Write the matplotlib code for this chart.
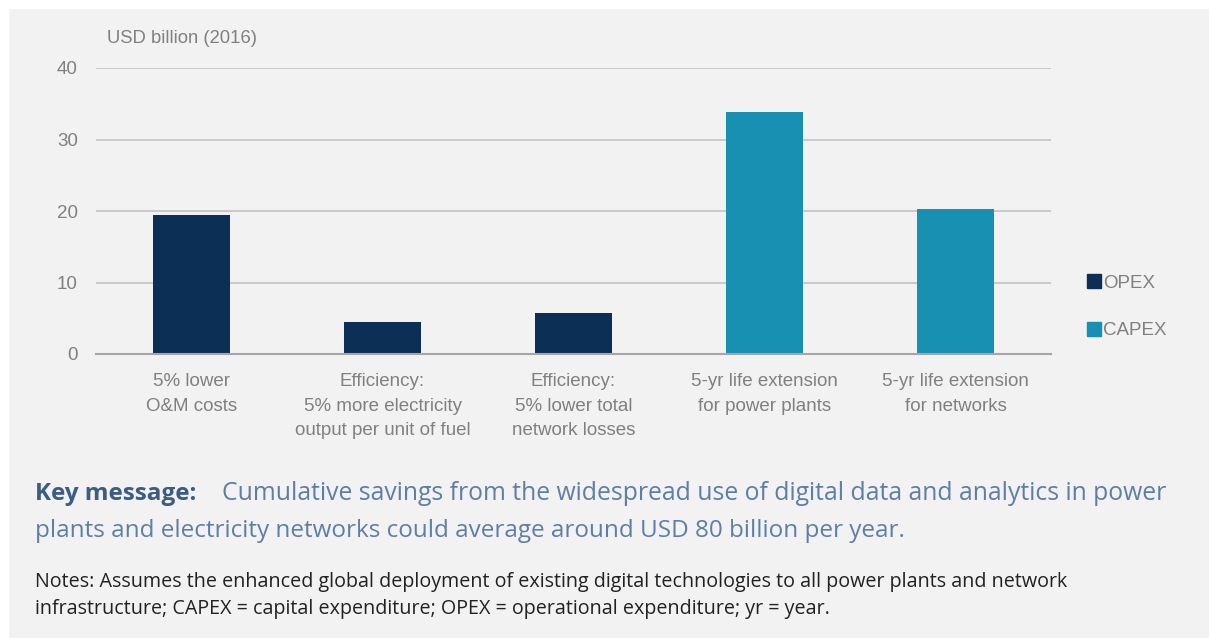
import matplotlib.pyplot as plt
from matplotlib.patches import Rectangle
from matplotlib.lines import Line2D

categories = [
    "5% lower\nO&M costs",
    "Efficiency:\n5% more electricity\noutput per unit of fuel",
    "Efficiency:\n5% lower total\nnetwork losses",
    "5-yr life extension\nfor power plants",
    "5-yr life extension\nfor networks",
]
values = [19.4, 4.5, 5.7, 33.8, 20.3]
series = ["OPEX", "OPEX", "OPEX", "CAPEX", "CAPEX"]
yticks = [0, 10, 20, 30, 40]

colors = {"OPEX": "#0b2f55", "CAPEX": "#1890b2"}
bg = "#f2f2f2"
grey_txt = "#808080"

plt.rcParams['font.family'] = ['Liberation Sans', 'DejaVu Sans']

fig = plt.figure(figsize=(12.09, 6.38), dpi=100, facecolor=bg)
# white frame at top/left like the screenshot
fig.patches.append(Rectangle((0, 0.987), 1, 0.013, transform=fig.transFigure,
                             color="white", zorder=0))
fig.patches.append(Rectangle((0, 0), 0.007, 1, transform=fig.transFigure,
                             color="white", zorder=0))

ax = fig.add_axes([96 / 1209, 1 - 354 / 638, 955 / 1209, 286 / 638])
ax.set_facecolor(bg)

x = list(range(len(categories)))
ax.bar(x, values, width=0.4, color=[colors[s] for s in series], zorder=3)

ax.set_xlim(-0.5, len(categories) - 0.5)
ax.set_ylim(0, 40)
ax.set_yticks(yticks)
ax.set_yticklabels([str(t) for t in yticks], fontsize=13.5, color=grey_txt)
ax.yaxis.grid(True, color="#c6c6c6", linewidth=1.3, zorder=0)
ax.tick_params(axis="y", length=0, pad=13)
ax.set_xticks(x)
ax.set_xticklabels(categories, fontsize=13.5, color=grey_txt, linespacing=1.55)
ax.tick_params(axis="x", length=0, pad=14)
for side in ["top", "right", "left"]:
    ax.spines[side].set_visible(False)
ax.spines["bottom"].set_color("#a6a6a6")
ax.spines["bottom"].set_linewidth(1.5)
ax.spines["bottom"].set_zorder(4)

ax.text(0.012, 1.075, "USD billion (2016)", transform=ax.transAxes,
        fontsize=13.3, color=grey_txt, va="bottom", ha="left")

handles = [Line2D([], [], marker="s", linestyle="none", markersize=10,
                  markerfacecolor=colors[k], markeredgecolor=colors[k])
           for k in ["OPEX", "CAPEX"]]
leg = fig.legend(handles, ["OPEX", "CAPEX"], loc="center left",
                 bbox_to_anchor=(1077 / 1209, 1 - 307 / 638), frameon=False,
                 fontsize=13.5, labelcolor=grey_txt, handletextpad=0.0,
                 handlelength=1.0, labelspacing=1.6, borderaxespad=0)

body = ['Open Sans', 'DejaVu Sans']
fig.text(35 / 1209, 1 - 494 / 638, "Key message:", fontsize=17.5,
         color="#3c5c84", fontweight="bold", family=body, va="center")
fig.text(222 / 1209, 1 - 494 / 638,
         "Cumulative savings from the widespread use of digital data and analytics in power",
         fontsize=17.8, color="#5f7ea6", family=body, va="center")
fig.text(35 / 1209, 1 - 531 / 638,
         "plants and electricity networks could average around USD 80 billion per year.",
         fontsize=17.5, color="#5f7ea6", family=body, va="center")
fig.text(35 / 1209, 1 - 582 / 638,
         "Notes: Assumes the enhanced global deployment of existing digital technologies to all power plants and network",
         fontsize=14.2, color="#222222", family=body, va="center")
fig.text(35 / 1209, 1 - 609 / 638,
         "infrastructure; CAPEX = capital expenditure; OPEX = operational expenditure; yr = year.",
         fontsize=14.2, color="#222222", family=body, va="center")

fig.savefig("out.png", dpi=100, facecolor=bg)
